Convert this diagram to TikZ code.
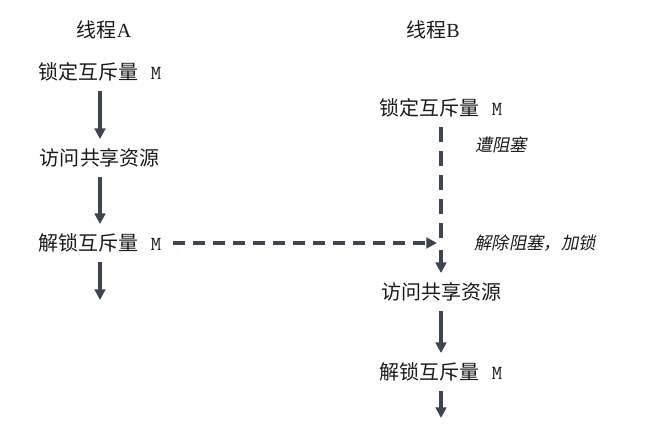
\documentclass[tikz,border=0pt]{standalone}
\usepackage{fontspec}
\setmainfont{Liberation Serif}
\newfontfamily\cjk{Noto Sans CJK SC}
\newfontfamily\cjkit[FakeSlant=0.2]{Noto Sans CJK SC}
\usetikzlibrary{arrows.meta}
\definecolor{linegray}{HTML}{3E4451}
\definecolor{textgray}{HTML}{1A1A1A}

\begin{document}
\begin{tikzpicture}[x=0.75pt,y=-0.75pt,
	step text/.style={inner xsep=9pt,inner ysep=7pt,text=textgray,font=\fontsize{15pt}{18pt}\selectfont\cjk},
	note text/.style={text=textgray,font=\fontsize{13pt}{16pt}\selectfont\cjkit},
	flow/.style={draw=linegray,line width=2.6pt,-{Triangle[width=8pt,length=8pt]}},
	wait/.style={draw=linegray,line width=2.6pt,dash pattern=on 11pt off 7pt}]
	\useasboundingbox (0,0) rectangle (650,427);

	% thread A
	\node[step text] (headA)   at (104, 30)  {线程\rmfamily A};
	\node[step text] (lockA)   at (100, 72)  {锁定互斥量\hspace{9pt}\ttfamily M};
	\node[step text] (accessA) at (100, 158) {访问共享资源};
	\node[step text] (unlockA) at (100, 243) {解锁互斥量\hspace{9pt}\ttfamily M};
	\coordinate (endA) at (100, 300);

	% thread B
	\node[step text] (headB)   at (433, 30)  {线程\rmfamily B};
	\node[step text] (lockB)   at (441, 108) {锁定互斥量\hspace{9pt}\ttfamily M};
	\node[step text] (accessB) at (441, 292) {访问共享资源};
	\node[step text] (unlockB) at (441, 372) {解锁互斥量\hspace{9pt}\ttfamily M};
	\coordinate (hit)  at (441, 243);
	\coordinate (endB) at (441, 418);

	\node[note text] (blocked) at (501, 145) {遭阻塞};
	\node[note text] (woken)   at (535, 243) {解除阻塞，加锁};

	\path[flow] (lockA) -- (accessA);
	\path[flow] (accessA) -- (unlockA);
	\path[flow] (unlockA) -- (endA);

	\path[wait] (lockB) -- ([yshift=4pt]hit);
	\path[flow,shorten <=5pt] (hit) -- (accessB);
	\path[flow] (accessB) -- (unlockB);
	\path[flow] (unlockB) -- (endB);

	\path[flow,dash pattern=on 9pt off 6pt,shorten >=3pt] (unlockA) -- (hit);
\end{tikzpicture}
\end{document}
